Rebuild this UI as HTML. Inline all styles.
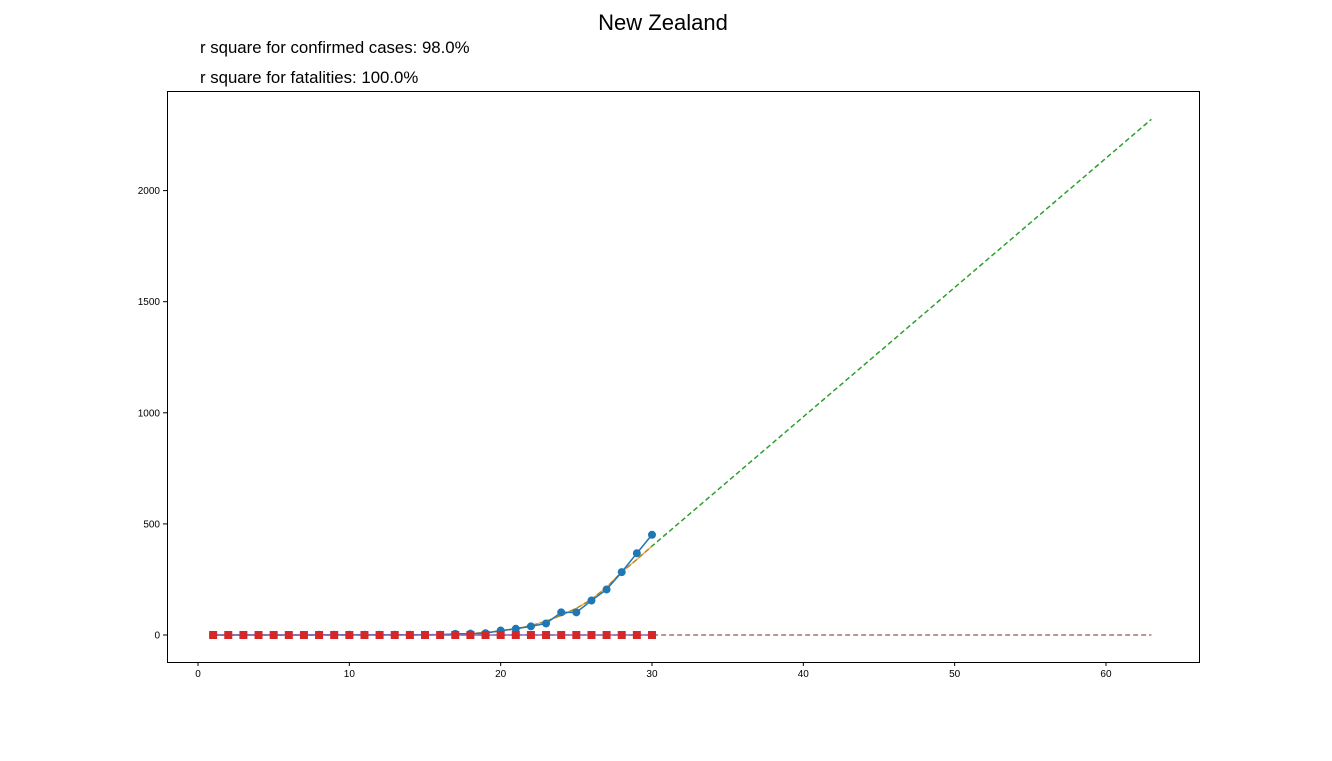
<!DOCTYPE html>
<html><head><meta charset="utf-8"><style>
body{margin:0;background:#fff;width:1332px;height:756px;overflow:hidden;font-family:"Liberation Sans",sans-serif}
</style></head><body>
<svg id="chart" width="1332" height="756" xmlns="http://www.w3.org/2000/svg" font-family="Liberation Sans, sans-serif">
<rect width="1332" height="756" fill="#fff"/>
<text x="663" y="30" text-anchor="middle" font-size="22">New Zealand</text>
<text x="200" y="53" font-size="16.8">r square for confirmed cases: 98.0%</text>
<text x="200" y="83" font-size="16.8">r square for fatalities: 100.0%</text>
<g id="axes"></g>
<g id="marks"></g>
<rect x="167.5" y="91.5" width="1032" height="571" fill="none" stroke="#000" stroke-width="1"/>
</svg>
<script>
const days = [1,2,3,4,5,6,7,8,9,10,11,12,13,14,15,16,17,18,19,20,21,22,23,24,25,26,27,28,29,30];
const confirmed = [0,0,0,0,0,0,0,1,1,1,1,1,1,1,1,1,5,6,8,20,28,39,52,102,102,155,205,283,368,451];
const fatalities = [0,0,0,0,0,0,0,0,0,0,0,0,0,0,0,0,0,0,0,0,0,0,0,0,0,0,0,0,0,0];
const xTicks = [0,10,20,30,40,50,60];
const yTicks = [0,500,1000,1500,2000];
const extX = [1,10,15,17,18,19,20,21,22,23,24,25,26,27,28,29,30,40,50,60,63];
const extY = [0,0,1,3,6,11,18,28,42,62,88,120,160,215,283,340,400,982,1564,2146,2321];

const X = v => 198 + v*15.133;
const Y = v => 635 - v*0.2222;
const NS = "http://www.w3.org/2000/svg";
const axes = document.getElementById('axes');
const marks = document.getElementById('marks');
function mk(tag, attrs, parent){const e=document.createElementNS(NS,tag);for(const k in attrs)e.setAttribute(k,attrs[k]);parent.appendChild(e);return e;}

xTicks.forEach(t=>{
  const l=mk('line',{x1:X(t),x2:X(t),y1:662,y2:666,stroke:'#000'},axes);
  
  
  const tx=mk('text',{x:X(t),y:677,'text-anchor':'middle','font-size':10},axes);
  tx.textContent=t;
  
  
});
yTicks.forEach(t=>{
  const l=mk('line',{x1:163,x2:167,y1:Y(t),y2:Y(t),stroke:'#000'},axes);
  
  
  const tx=mk('text',{x:160,y:Y(t)+3.5,'text-anchor':'end','font-size':10},axes);
  tx.textContent=t;
  
  
});

function pts(xs,ys){return xs.map((x,i)=>X(x)+','+Y(ys[i])).join(' ');}

let p=mk('polyline',{points:pts(extX,extY),fill:'none',stroke:'#2ca02c','stroke-width':1.5,'stroke-dasharray':'5,3'},marks);


p=mk('polyline',{points:pts([1,63],[0,0]),fill:'none',stroke:'#a0766f','stroke-width':1.5,'stroke-dasharray':'5,3'},marks);


const fx=extX.filter(x=>x<=30), fy=extY.slice(0,fx.length);
p=mk('polyline',{points:pts(fx,fy),fill:'none',stroke:'#ff7f0e','stroke-width':1.5,'stroke-opacity':0.7},marks);


p=mk('polyline',{points:pts(days,confirmed),fill:'none',stroke:'#1f77b4','stroke-width':1.5},marks);


days.forEach((d,i)=>{
  const c=mk('circle',{cx:X(d),cy:Y(confirmed[i]),r:4,fill:'#1f77b4'},marks);
  
  
});
p=mk('polyline',{points:pts(days,fatalities),fill:'none',stroke:'#9467bd','stroke-width':1.5},marks);


days.forEach((d,i)=>{
  const r=mk('rect',{x:X(d)-4,y:Y(fatalities[i])-4,width:8,height:8,fill:'#d62728'},marks);
  
  
});
</script>
</body></html>
